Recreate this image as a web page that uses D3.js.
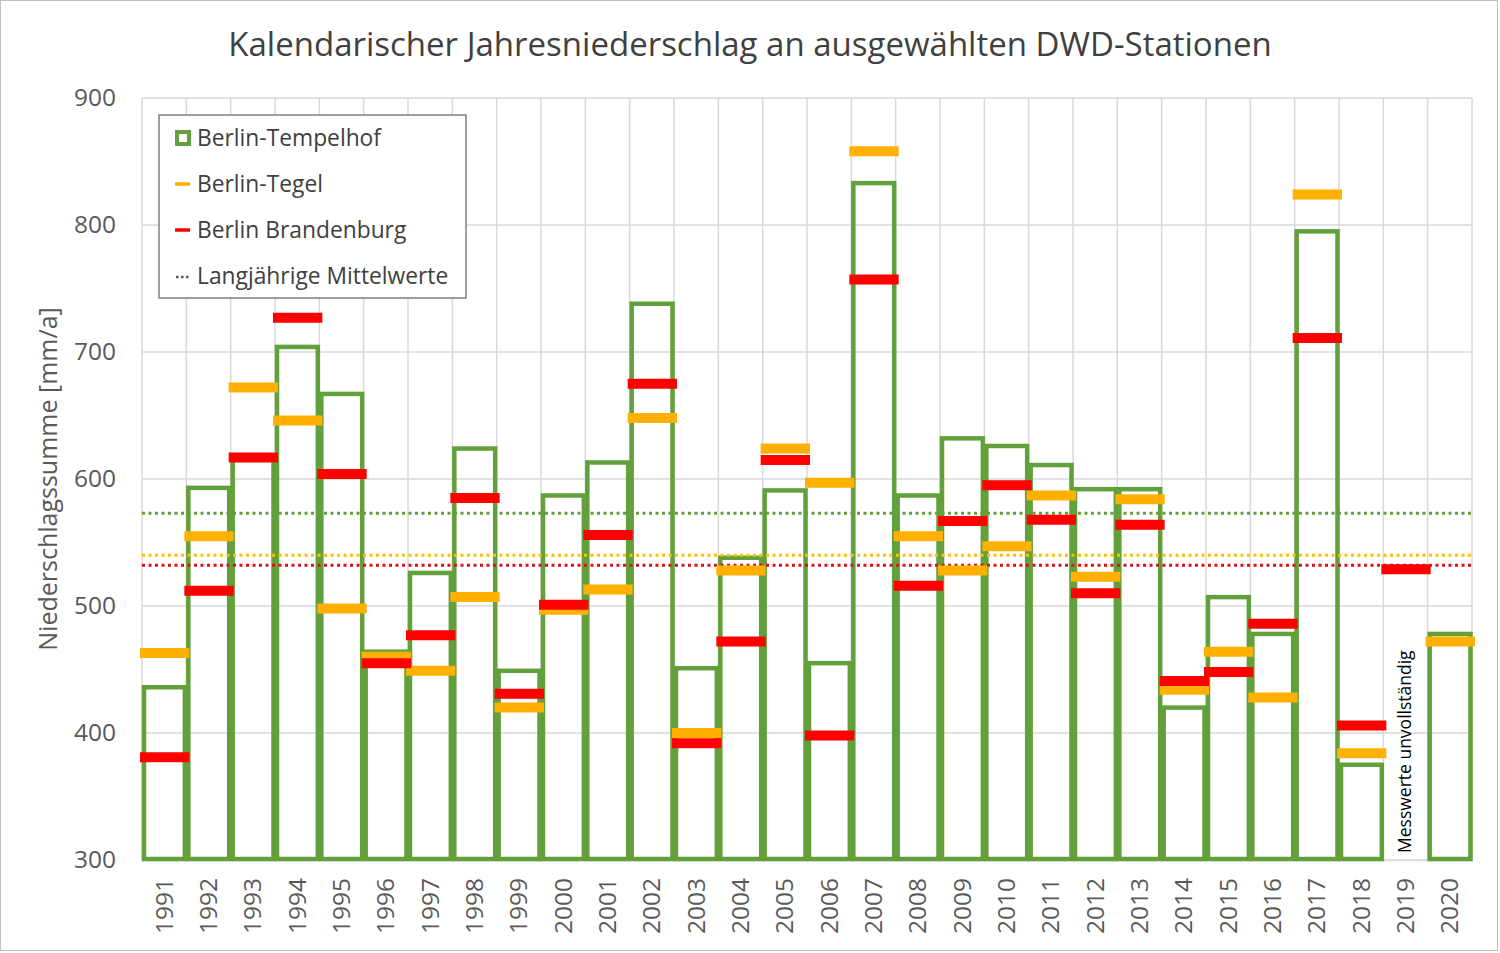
<!DOCTYPE html>
<html>
<head>
<meta charset="utf-8">
<script src="https://d3js.org/d3.v7.min.js"></script>
<style>
  body { margin: 0; padding: 0; background: #fff; }
  text { font-family: "Open Sans", sans-serif; }
</style>
</head>
<body>
<svg id="chart" width="1500" height="953"></svg>
<script>
// ---- data (mm/a) ----
const years = [1991, 1992, 1993, 1994, 1995, 1996, 1997, 1998, 1999, 2000,
               2001, 2002, 2003, 2004, 2005, 2006, 2007, 2008, 2009, 2010,
               2011, 2012, 2013, 2014, 2015, 2016, 2017, 2018, 2019, 2020];
const tempelhof   = [436, 593, 616, 704, 667, 464, 526, 624, 449, 587,
                     613, 738, 451, 538, 591, 455, 833, 587, 632, 626,
                     611, 592, 592, 420, 507, 478, 795, 375, null, 478];
const tegel       = [463, 555, 672, 646, 498, 460, 449, 507, 420, 497,
                     513, 648, 400, 528, 624, 597, 858, 555, 528, 547,
                     587, 523, 584, 434, 464, 428, 824, 384, null, 472];
const brandenburg = [381, 512, 617, 727, 604, 455, 477, 585, 431, 501,
                     556, 675, 392, 472, 615, 398, 757, 516, 567, 595,
                     568, 510, 564, 441, 448, 486, 711, 406, 529, null];
const meanNames  = ["Berlin-Tempelhof", "Berlin-Tegel", "Berlin Brandenburg"];
const meanValues = [573, 540, 532];
const yTicks = [300, 400, 500, 600, 700, 800, 900];

const cGreen = "#62a03c", cOrange = "#ffb000", cRed = "#ff0000";
const meanColors = [cGreen, "#ffc000", "#e0101a"];

const svg = d3.select("#chart");
const W = +svg.attr("width"), H = +svg.attr("height");

// outer frame
svg.append("rect").attr("x", 0.5).attr("y", 0.5).attr("width", W - 3).attr("height", H - 3)
  .attr("fill", "#fff").attr("stroke", "#bfbfbf");

const margin = { top: 98, right: 28, bottom: 93, left: 142 };
const x = d3.scaleBand().domain(years).range([margin.left, W - margin.right]).padding(0);
const y = d3.scaleLinear().domain([300, 900]).range([H - margin.bottom, margin.top]);

// title
svg.append("text")
  .attr("x", 750).attr("y", 56)
  .attr("text-anchor", "middle")
  .attr("font-size", 33)
  .attr("fill", "#404040")
  .text("Kalendarischer Jahresniederschlag an ausgewählten DWD-Stationen");

// grid
const grid = svg.append("g").attr("stroke", "#d9d9d9").attr("stroke-width", 1.5);
grid.selectAll("line.h").data(yTicks).join("line").attr("class", "h")
  .attr("x1", x.range()[0]).attr("x2", x.range()[1])
  .attr("y1", d => y(d)).attr("y2", d => y(d));
grid.selectAll("line.v").data(years.concat(["end"])).join("line").attr("class", "v")
  .attr("x1", (d, i) => x.range()[0] + i * x.bandwidth())
  .attr("x2", (d, i) => x.range()[0] + i * x.bandwidth())
  .attr("y1", y(900)).attr("y2", y(300));

// y axis
const yAxis = svg.append("g")
  .attr("transform", `translate(${margin.left},0)`)
  .call(d3.axisLeft(y).tickValues(yTicks).tickSize(0).tickPadding(26));
yAxis.select(".domain").remove();
yAxis.selectAll("text").attr("font-size", 24.5).attr("fill", "#595959")
  .style("font-family", "'Open Sans', sans-serif");

svg.append("text")
  .attr("transform", `translate(57,${(y(300) + y(900)) / 2}) rotate(-90)`)
  .attr("text-anchor", "middle")
  .attr("font-size", 25)
  .attr("fill", "#595959")
  .text("Niederschlagssumme [mm/a]");

// x axis
const xAxis = svg.append("g")
  .attr("transform", `translate(0,${y(300)})`)
  .call(d3.axisBottom(x).tickSize(0).tickPadding(0));
xAxis.select(".domain").attr("stroke", "#d9d9d9").attr("stroke-width", 1.5);
xAxis.selectAll("text")
  .attr("font-size", 24.5).attr("fill", "#595959")
  .style("font-family", "'Open Sans', sans-serif")
  .attr("text-anchor", "end")
  .attr("dy", "0.35em")
  .attr("transform", "translate(0,18) rotate(-90)");

// Tempelhof bars
const rows = years.map((yr, i) => ({ yr, t: tempelhof[i], g: tegel[i], b: brandenburg[i] }));
svg.append("g").selectAll("rect").data(rows.filter(d => d.t != null)).join("rect")
  .attr("x", d => x(d.yr) + 2)
  .attr("width", x.bandwidth() - 4 + 0.5)
  .attr("y", d => y(d.t))
  .attr("height", d => y(300) - y(d.t) - 1)
  .attr("fill", "none")
  .attr("stroke", cGreen)
  .attr("stroke-width", 4.5);

// long-term means
svg.append("g").selectAll("line").data(meanValues).join("line")
  .attr("x1", x.range()[0]).attr("x2", x.range()[1])
  .attr("y1", d => y(d)).attr("y2", d => y(d))
  .attr("stroke", (d, i) => meanColors[i])
  .attr("stroke-width", 3)
  .attr("stroke-dasharray", "3,3.5");

// station markers
function markers(key, color) {
  svg.append("g").selectAll("line").data(rows.filter(d => d[key] != null)).join("line")
    .attr("x1", d => x(d.yr) - 2)
    .attr("x2", d => x(d.yr) + x.bandwidth() + 3)
    .attr("y1", d => y(d[key])).attr("y2", d => y(d[key]))
    .attr("stroke", color)
    .attr("stroke-width", 10);
}
markers("g", cOrange);
markers("b", cRed);

// note for 2019
svg.append("text")
  .attr("transform", `translate(${x(2019) + x.bandwidth() / 2 - 1},853) rotate(-90)`)
  .attr("font-size", 17.5)
  .attr("fill", "#000")
  .attr("dy", "0.35em")
  .text("Messwerte unvollständig");

// legend
const lg = svg.append("g").attr("transform", "translate(159,115)");
lg.append("rect").attr("width", 307).attr("height", 183)
  .attr("fill", "#fff").attr("stroke", "#808080").attr("stroke-width", 1.5);
const legendItems = ["Berlin-Tempelhof", "Berlin-Tegel", "Berlin Brandenburg", "Langjährige Mittelwerte"];
legendItems.forEach((name, i) => {
  const cy = 23 + i * 46;
  if (i === 0) {
    lg.append("rect").attr("x", 18).attr("y", cy - 6).attr("width", 12).attr("height", 12)
      .attr("fill", "#fff").attr("stroke", cGreen).attr("stroke-width", 4);
  } else if (i < 3) {
    lg.append("line").attr("x1", 16).attr("x2", 31).attr("y1", cy).attr("y2", cy)
      .attr("stroke", i === 1 ? cOrange : cRed).attr("stroke-width", 3.5);
  } else {
    lg.append("line").attr("x1", 17).attr("x2", 32).attr("y1", cy + 1).attr("y2", cy + 1)
      .attr("stroke", "#595959").attr("stroke-width", 2.5).attr("stroke-dasharray", "2.5,2.5");
  }
  lg.append("text").attr("x", 38).attr("y", cy).attr("dy", "0.35em")
    .attr("font-size", 22.8).attr("fill", "#404040").text(name);
});
</script>
</body>
</html>
